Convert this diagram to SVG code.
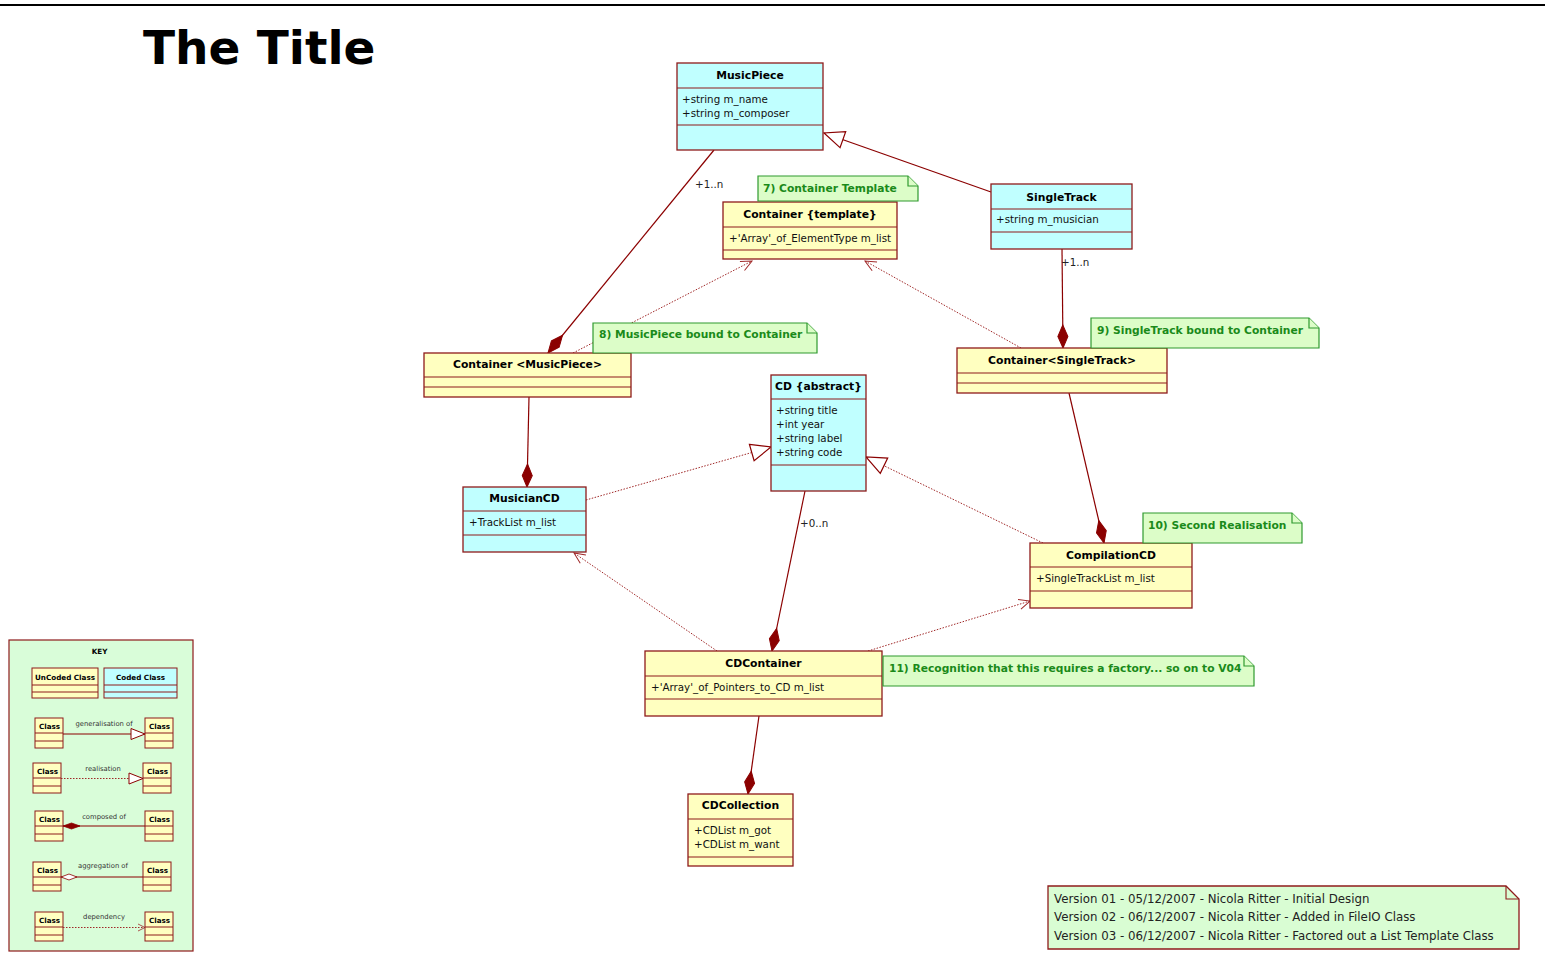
<svg xmlns="http://www.w3.org/2000/svg" width="1545" height="968" viewBox="0 0 1545 968">
  <style>
    text { font-family: "DejaVu Sans", Verdana, sans-serif; }
    .box rect { stroke: #8e1b1b; stroke-width: 1.3; }
    .box line { stroke: #8e1b1b; stroke-width: 1.2; }
    .coded rect { fill: #c0ffff; }
    .uncoded rect { fill: #ffffc0; }
    .name { font-size: 10.8px; font-weight: bold; text-anchor: middle; fill: #000; }
    .attr { font-size: 10.3px; fill: #111; }
    .note path { fill: #dcfdc8; stroke: #2f9a2f; stroke-width: 1.2; }
    .notetxt { font-size: 10.7px; font-weight: bold; fill: #1a8a1a; }
    .solid { stroke: #8b0000; stroke-width: 1.2; fill: none; }
    .dotted { stroke: #a02828; stroke-width: 1; stroke-dasharray: 1.5 1.5; fill: none; }
    .mult { font-size: 10.3px; fill: #222; }
    .kbox rect { fill: #ffffc0; stroke: #8e1b1b; stroke-width: 1; }
    .kbox line { stroke: #8e1b1b; stroke-width: 1; }
    .kname { font-size: 7.2px; font-weight: bold; fill: #000; }
    .klabel { font-size: 6.8px; fill: #333; text-anchor: middle; }
  </style>
  <defs>
    <marker id="gen" markerUnits="userSpaceOnUse" markerWidth="24" markerHeight="20" refX="20" refY="8.5" orient="auto" overflow="visible">
      <path d="M0,0 L20,8.5 L0,17 Z" fill="#fff" stroke="#8b0000" stroke-width="1.2"/>
    </marker>
    <marker id="comp" markerUnits="userSpaceOnUse" markerWidth="24" markerHeight="12" refX="23" refY="5" orient="auto" overflow="visible">
      <path d="M0,5 L11.5,0 L23,5 L11.5,10 Z" fill="#8b0000" stroke="#8b0000" stroke-width="1"/>
    </marker>
    <marker id="dep" markerUnits="userSpaceOnUse" markerWidth="12" markerHeight="12" refX="11" refY="5" orient="auto" overflow="visible">
      <path d="M0,0 L11,5 L0,10" fill="none" stroke="#a02828" stroke-width="1"/>
    </marker>
    <marker id="kgen" markerUnits="userSpaceOnUse" markerWidth="16" markerHeight="12" refX="14" refY="5.5" orient="auto" overflow="visible">
      <path d="M0,0 L14,5.5 L0,11 Z" fill="#fff" stroke="#8b0000" stroke-width="1"/>
    </marker>
    <marker id="kcomp" markerUnits="userSpaceOnUse" markerWidth="18" markerHeight="8" refX="0" refY="3" orient="auto" overflow="visible">
      <path d="M0,3 L8.5,0 L17,3 L8.5,6 Z" fill="#8b0000" stroke="#8b0000" stroke-width="0.8"/>
    </marker>
    <marker id="kagg" markerUnits="userSpaceOnUse" markerWidth="18" markerHeight="8" refX="0" refY="3" orient="auto" overflow="visible">
      <path d="M0,3 L8,0 L16,3 L8,6 Z" fill="#fff" stroke="#8b0000" stroke-width="0.8"/>
    </marker>
    <marker id="kdep" markerUnits="userSpaceOnUse" markerWidth="9" markerHeight="8" refX="7" refY="3.5" orient="auto" overflow="visible">
      <path d="M0,0 L7,3.5 L0,7" fill="none" stroke="#a02828" stroke-width="0.8"/>
    </marker>
  </defs>

  <rect x="0" y="0" width="1545" height="968" fill="#fff"/>

  <!-- page header -->
  <line x1="0" y1="5" x2="1545" y2="5" stroke="#000" stroke-width="2"/>
  <text x="143" y="64" font-size="47" font-weight="bold" fill="#000">The Title</text>

  <!-- connectors -->
  <g id="connectors">
    <path class="solid" d="M991,192 L824,133" marker-end="url(#gen)"/>
    <path class="solid" d="M714,150 L548,353" marker-end="url(#comp)"/>
    <text class="mult" x="695" y="188">+1..n</text>
    <path class="dotted" d="M573,353 L752,261" marker-end="url(#dep)"/>
    <path class="dotted" d="M1021,348 L865,261" marker-end="url(#dep)"/>
    <path class="solid" d="M1062,249 L1063,348" marker-end="url(#comp)"/>
    <text class="mult" x="1061" y="266">+1..n</text>
    <path class="solid" d="M529,397 L527,487" marker-end="url(#comp)"/>
    <path class="dotted" d="M586,500 L771,447" marker-end="url(#gen)"/>
    <path class="dotted" d="M1043,543 L866,457" marker-end="url(#gen)"/>
    <path class="solid" d="M1069,393 L1104,543" marker-end="url(#comp)"/>
    <path class="solid" d="M805,491 L772,651" marker-end="url(#comp)"/>
    <text class="mult" x="800" y="527">+0..n</text>
    <path class="dotted" d="M717,651 L574,553" marker-end="url(#dep)"/>
    <path class="dotted" d="M868,651 L1030,601" marker-end="url(#dep)"/>
    <path class="solid" d="M759,716 L748,794" marker-end="url(#comp)"/>
  </g>

  <!-- classes -->
  <g id="MusicPiece" class="box coded">
    <rect x="677" y="63" width="146" height="87"/>
    <line x1="677" y1="88" x2="823" y2="88"/>
    <line x1="677" y1="125" x2="823" y2="125"/>
    <text class="name" x="750" y="79">MusicPiece</text>
    <text class="attr" x="682" y="103">+string m_name</text>
    <text class="attr" x="682" y="117">+string m_composer</text>
  </g>

  <g id="ContainerTemplate" class="box uncoded">
    <rect x="723" y="202" width="174" height="57"/>
    <line x1="723" y1="227" x2="897" y2="227"/>
    <line x1="723" y1="250" x2="897" y2="250"/>
    <text class="name" x="810" y="218">Container {template}</text>
    <text class="attr" x="729" y="242">+'Array'_of_ElementType m_list</text>
  </g>

  <g id="SingleTrack" class="box coded">
    <rect x="991" y="184" width="141" height="65"/>
    <line x1="991" y1="209" x2="1132" y2="209"/>
    <line x1="991" y1="232" x2="1132" y2="232"/>
    <text class="name" x="1061.5" y="201">SingleTrack</text>
    <text class="attr" x="996" y="223">+string m_musician</text>
  </g>

  <g id="ContainerSingleTrack" class="box uncoded">
    <rect x="957" y="348" width="210" height="45"/>
    <line x1="957" y1="373" x2="1167" y2="373"/>
    <line x1="957" y1="383" x2="1167" y2="383"/>
    <text class="name" x="1062" y="364">Container&lt;SingleTrack&gt;</text>
  </g>

  <g id="ContainerMusicPiece" class="box uncoded">
    <rect x="424" y="353" width="207" height="44"/>
    <line x1="424" y1="377" x2="631" y2="377"/>
    <line x1="424" y1="387" x2="631" y2="387"/>
    <text class="name" x="527.5" y="368">Container &lt;MusicPiece&gt;</text>
  </g>

  <g id="CD" class="box coded">
    <rect x="771" y="375" width="95" height="116"/>
    <line x1="771" y1="399" x2="866" y2="399"/>
    <line x1="771" y1="465" x2="866" y2="465"/>
    <text class="name" x="818.5" y="390">CD {abstract}</text>
    <text class="attr" x="776" y="414">+string title</text>
    <text class="attr" x="776" y="428">+int year</text>
    <text class="attr" x="776" y="442">+string label</text>
    <text class="attr" x="776" y="456">+string code</text>
  </g>

  <g id="MusicianCD" class="box coded">
    <rect x="463" y="487" width="123" height="65"/>
    <line x1="463" y1="511" x2="586" y2="511"/>
    <line x1="463" y1="535" x2="586" y2="535"/>
    <text class="name" x="524.5" y="502">MusicianCD</text>
    <text class="attr" x="469" y="526">+TrackList m_list</text>
  </g>

  <g id="CompilationCD" class="box uncoded">
    <rect x="1030" y="543" width="162" height="65"/>
    <line x1="1030" y1="567" x2="1192" y2="567"/>
    <line x1="1030" y1="591" x2="1192" y2="591"/>
    <text class="name" x="1111" y="559">CompilationCD</text>
    <text class="attr" x="1036" y="582">+SingleTrackList m_list</text>
  </g>

  <g id="CDContainer" class="box uncoded">
    <rect x="645" y="651" width="237" height="65"/>
    <line x1="645" y1="676" x2="882" y2="676"/>
    <line x1="645" y1="699" x2="882" y2="699"/>
    <text class="name" x="763.5" y="667">CDContainer</text>
    <text class="attr" x="651" y="691">+'Array'_of_Pointers_to_CD m_list</text>
  </g>

  <g id="CDCollection" class="box uncoded">
    <rect x="688" y="794" width="105" height="72"/>
    <line x1="688" y1="819" x2="793" y2="819"/>
    <line x1="688" y1="857" x2="793" y2="857"/>
    <text class="name" x="740.5" y="809">CDCollection</text>
    <text class="attr" x="694" y="834">+CDList m_got</text>
    <text class="attr" x="694" y="848">+CDList m_want</text>
  </g>

  <!-- notes -->
  <g id="note7" class="note">
    <path d="M758,176 H908 L918,186 V201 H758 Z"/>
    <path d="M908,176 V186 H918" fill="none"/>
    <text class="notetxt" x="763" y="192">7) Container Template</text>
  </g>
  <g id="note8" class="note">
    <path d="M593,323 H807 L817,333 V353 H593 Z"/>
    <path d="M807,323 V333 H817" fill="none"/>
    <text class="notetxt" x="599" y="338">8) MusicPiece bound to Container</text>
  </g>
  <g id="note9" class="note">
    <path d="M1091,318 H1309 L1319,328 V348 H1091 Z"/>
    <path d="M1309,318 V328 H1319" fill="none"/>
    <text class="notetxt" x="1097" y="334">9) SingleTrack bound to Container</text>
  </g>
  <g id="note10" class="note">
    <path d="M1143,513 H1292 L1302,523 V543 H1143 Z"/>
    <path d="M1292,513 V523 H1302" fill="none"/>
    <text class="notetxt" x="1148" y="529">10) Second Realisation</text>
  </g>
  <g id="note11" class="note">
    <path d="M883,656 H1244 L1254,666 V686 H883 Z"/>
    <path d="M1244,656 V666 H1254" fill="none"/>
    <text class="notetxt" x="889" y="672">11) Recognition that this requires a factory... so on to V04</text>
  </g>

  <!-- version history -->
  <g id="versions">
    <path d="M1048,886 H1506 L1519,899 V949 H1048 Z" fill="#d9fdd3" stroke="#8e1b1b" stroke-width="1.3"/>
    <path d="M1506,886 V899 H1519" fill="none" stroke="#8e1b1b" stroke-width="1.1"/>
    <text x="1054" y="903" font-size="11.8" fill="#222">Version 01 - 05/12/2007 - Nicola Ritter - Initial Design</text>
    <text x="1054" y="921" font-size="11.8" fill="#222">Version 02 - 06/12/2007 - Nicola Ritter - Added in FileIO Class</text>
    <text x="1054" y="939.5" font-size="11.8" fill="#222">Version 03 - 06/12/2007 - Nicola Ritter - Factored out a List Template Class</text>
  </g>

  <!-- legend -->
  <g id="key">
    <rect x="9" y="640" width="184" height="311" fill="#d9fdd9" stroke="#8e1b1b" stroke-width="1.2"/>
    <text x="99.5" y="654" font-size="7.2" font-weight="bold" text-anchor="middle">KEY</text>

    <g class="kbox">
      <rect x="32" y="668" width="66" height="30"/>
      <line x1="32" y1="685" x2="98" y2="685"/>
      <line x1="32" y1="692" x2="98" y2="692"/>
    </g>
    <text class="kname" x="65" y="679.5" text-anchor="middle">UnCoded Class</text>
    <g class="kbox">
      <rect x="104" y="668" width="73" height="30" style="fill:#c0ffff"/>
      <line x1="104" y1="685" x2="177" y2="685"/>
      <line x1="104" y1="692" x2="177" y2="692"/>
    </g>
    <text class="kname" x="140.5" y="679.5" text-anchor="middle">Coded Class</text>

    <!-- generalisation -->
    <g class="kbox">
      <rect x="35" y="718" width="28" height="30"/><line x1="35" y1="733" x2="63" y2="733"/><line x1="35" y1="741" x2="63" y2="741"/>
      <rect x="145" y="718" width="28" height="30"/><line x1="145" y1="733" x2="173" y2="733"/><line x1="145" y1="741" x2="173" y2="741"/>
    </g>
    <text class="kname" x="39" y="728.5">Class</text>
    <text class="kname" x="149" y="728.5">Class</text>
    <path class="solid" d="M63,734 L145,734" marker-end="url(#kgen)" stroke-width="1"/>
    <text class="klabel" x="104" y="726">generalisation of</text>

    <!-- realisation -->
    <g class="kbox">
      <rect x="33" y="763" width="28" height="30"/><line x1="33" y1="778" x2="61" y2="778"/><line x1="33" y1="786" x2="61" y2="786"/>
      <rect x="143" y="763" width="28" height="30"/><line x1="143" y1="778" x2="171" y2="778"/><line x1="143" y1="786" x2="171" y2="786"/>
    </g>
    <text class="kname" x="37" y="773.5">Class</text>
    <text class="kname" x="147" y="773.5">Class</text>
    <path class="dotted" d="M61,778.5 L143,778.5" marker-end="url(#kgen)"/>
    <text class="klabel" x="103" y="771">realisation</text>

    <!-- composition -->
    <g class="kbox">
      <rect x="35" y="811" width="28" height="30"/><line x1="35" y1="826" x2="63" y2="826"/><line x1="35" y1="834" x2="63" y2="834"/>
      <rect x="145" y="811" width="28" height="30"/><line x1="145" y1="826" x2="173" y2="826"/><line x1="145" y1="834" x2="173" y2="834"/>
    </g>
    <text class="kname" x="39" y="821.5">Class</text>
    <text class="kname" x="149" y="821.5">Class</text>
    <path class="solid" d="M63,826 L145,826" marker-start="url(#kcomp)" stroke-width="1"/>
    <text class="klabel" x="104" y="818.5">composed of</text>

    <!-- aggregation -->
    <g class="kbox">
      <rect x="33" y="862" width="28" height="29"/><line x1="33" y1="877" x2="61" y2="877"/><line x1="33" y1="885" x2="61" y2="885"/>
      <rect x="143" y="862" width="28" height="29"/><line x1="143" y1="877" x2="171" y2="877"/><line x1="143" y1="885" x2="171" y2="885"/>
    </g>
    <text class="kname" x="37" y="872.5">Class</text>
    <text class="kname" x="147" y="872.5">Class</text>
    <path class="solid" d="M61,877 L143,877" marker-start="url(#kagg)" stroke-width="1"/>
    <text class="klabel" x="103" y="867.5">aggregation of</text>

    <!-- dependency -->
    <g class="kbox">
      <rect x="35" y="912" width="28" height="29"/><line x1="35" y1="927" x2="63" y2="927"/><line x1="35" y1="935" x2="63" y2="935"/>
      <rect x="145" y="912" width="28" height="29"/><line x1="145" y1="927" x2="173" y2="927"/><line x1="145" y1="935" x2="173" y2="935"/>
    </g>
    <text class="kname" x="39" y="922.5">Class</text>
    <text class="kname" x="149" y="922.5">Class</text>
    <path class="dotted" d="M63,927.5 L145,927.5" marker-end="url(#kdep)"/>
    <text class="klabel" x="104" y="919">dependency</text>
  </g>
</svg>
